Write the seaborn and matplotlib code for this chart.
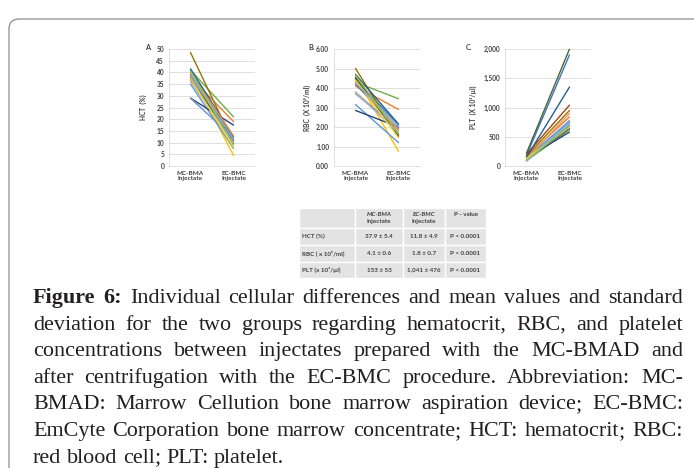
import matplotlib
matplotlib.use("Agg")
import numpy as np
import pandas as pd
import seaborn as sns
import matplotlib.pyplot as plt
from matplotlib.patches import FancyBboxPatch, Rectangle
from matplotlib.transforms import IdentityTransform
from matplotlib.ticker import MultipleLocator, FuncFormatter

W, H = 694, 468

GROUPS = ["MC-BMA\nInjectate", "EC-BMC\nInjectate"]

# excel-like series colours, one per patient
COLORS = ["#4472C4", "#ED7D31", "#A5A5A5", "#FFC000", "#5B9BD5", "#70AD47",
          "#264478", "#9E480E", "#636363", "#997300", "#255E91", "#43682B",
          "#698ED0", "#F1975A", "#B7B7B7", "#FFCD33", "#7CAFDD", "#8CC168"]

HCT_MC = [40, 38, 39, 40, 35, 41, 29, 38, 37, 48.5, 41.5, 39, 29, 39.5, 36, 37.5, 38.5, 40.5]
HCT_EC = [12, 19, 11, 4.5, 7.5, 21, 17.5, 10, 11, 10, 12.5, 9.5, 12, 13, 10, 8, 11.5, 9]

RBC_MC = [4.45, 4.1, 3.8, 4.6, 3.15, 4.3, 2.85, 4.5, 4.2, 5.0, 4.7, 4.55, 3.7, 4.35, 3.75, 4.4, 4.25, 4.65]
RBC_EC = [2.1, 2.9, 1.8, 0.75, 1.2, 3.45, 2.0, 1.6, 1.9, 1.5, 2.15, 1.55, 1.95, 1.85, 1.7, 1.45, 2.05, 1.65]

PLT_MC = [180, 160, 120, 130, 140, 90, 140, 200, 110, 170, 150, 220, 100, 120, 90, 130, 80, 100]
PLT_EC = [1900, 840, 780, 700, 760, 620, 580, 1040, 640, 950, 1350, 2000, 700, 900, 730, 670, 740, 680]

TABLE_HEAD = [("", ""), ("MC-BMA", "Injectate"), ("EC-BMC", "Injectate"), ("P - value", "")]
TABLE_ROWS = [
    ["HCT (%)", "37.9 ± 5.4", "11.8 ± 4.9", "P < 0.0001"],
    ["RBC ( x 10⁹/ml)", "4.1 ± 0.6", "1.8 ± 0.7", "P < 0.0001"],
    ["PLT (x 10³/µl)", "153 ± 53", "1,041 ± 476", "P < 0.0001"],
]

CAPTION = [
    "Figure 6: Individual cellular differences and mean values and standard",
    "deviation for the two groups regarding hematocrit, RBC, and platelet",
    "concentrations between injectates prepared with the MC-BMAD and",
    "after centrifugation with the EC-BMC procedure. Abbreviation: MC-",
    "BMAD: Marrow Cellution bone marrow aspiration device; EC-BMC:",
    "EmCyte Corporation bone marrow concentrate; HCT: hematocrit; RBC:",
    "red blood cell; PLT: platelet.",
]

SANS = ["Lato", "DejaVu Sans"]
SERIF = ["Liberation Serif", "DejaVu Serif"]


def panel(fig, left, mc, ec, top, step, fmt, ylabel, label_x, letter, letter_x):
    ax = fig.add_axes([left / W, 1 - 166 / H, 86 / W, 117 / H])
    n = len(mc)
    df = pd.DataFrame({
        "subject": np.tile(np.arange(n), 2),
        "group": np.repeat(GROUPS, n),
        "value": np.concatenate([mc, ec]),
    })
    df["pos"] = df["group"].map({g: i for i, g in enumerate(GROUPS)})
    sns.lineplot(data=df, x="pos", y="value", hue="subject", palette=COLORS[:n],
                 legend=False, lw=1.0, sort=False, estimator=None, ax=ax)
    ax.set_xlim(-0.5, 1.5)
    ax.set_ylim(0, top)
    ax.set_xticks(range(len(GROUPS)))
    ax.set_xticklabels(GROUPS, fontsize=4.6, fontweight="bold", family=SANS,
                       color="#404040", linespacing=1.1)
    ax.yaxis.set_major_locator(MultipleLocator(step))
    ax.yaxis.set_major_formatter(FuncFormatter(lambda v, p: fmt.format(v)))
    for t in ax.get_yticklabels():
        t.set_fontsize(4.8)
        t.set_fontweight("bold")
        t.set_family(SANS)
        t.set_color("#404040")
    ax.tick_params(length=0, pad=3.5)
    ax.grid(axis="y", color="#D9D9D9", lw=0.6)
    ax.grid(axis="x", visible=False)
    for s in ["top", "right"]:
        ax.spines[s].set_visible(False)
    ax.spines["left"].set_color("#D9D9D9")
    ax.spines["bottom"].set_color("#D9D9D9")
    ax.spines["left"].set_linewidth(0.6)
    ax.spines["bottom"].set_linewidth(0.6)
    ax.set_xlabel("")
    ax.set_ylabel(ylabel, fontsize=4.8, fontweight="bold", family=SANS, color="#404040")
    ax.yaxis.set_label_coords((label_x - left) / 86, 0.5)
    fig.text(letter_x / W, 1 - 47 / H, letter, fontsize=5.2, fontweight="bold",
             family=SANS, color="#404040", va="center")
    return ax


def draw_table(fig):
    ax = fig.add_axes([299 / W, 1 - 278 / H, 187 / W, 70 / H])
    ax.set_xlim(0, 187)
    ax.set_ylim(70, 0)
    ax.axis("off")
    cols = [0, 56, 104, 146, 187]
    rows = [0, 20, 37, 54, 70]
    for i in range(4):
        for j in range(4):
            ax.add_patch(Rectangle((cols[j], rows[i]), cols[j + 1] - cols[j], rows[i + 1] - rows[i],
                                   facecolor="#E3E3E3", edgecolor="white", lw=1.0))
    kw = dict(fontsize=4.5, fontweight="bold", family=SANS, color="#404040")
    for j, (a, b) in enumerate(TABLE_HEAD):
        cx = (cols[j] + cols[j + 1]) / 2
        if b:
            ax.text(cx, 6.5, a, ha="center", va="center", style="italic", **kw)
            ax.text(cx, 13.5, b, ha="center", va="center", **kw)
        elif a:
            ax.text(cx, 6.5, a, ha="center", va="center", **kw)
    for i, row in enumerate(TABLE_ROWS):
        cy = (rows[i + 1] + rows[i + 2]) / 2
        for j, txt in enumerate(row):
            if j == 0:
                ax.text(cols[0] + 3, cy, txt, ha="left", va="center", **kw)
            else:
                ax.text((cols[j] + cols[j + 1]) / 2, cy, txt, ha="center", va="center", **kw)


def split_word(w):
    # keep semicolons as their own token so the word itself sits on the baseline
    if w.endswith(";"):
        return [w[:-1], ";"]
    return [w]


def draw_caption(fig):
    renderer = fig.canvas.get_renderer()
    x0, x1 = 33, 683
    base = 10

    lines = []
    for k, line in enumerate(CAPTION):
        ws = line.split(" ")
        lines.append([(split_word(w), "bold" if (k == 0 and i < 2) else "normal")
                      for i, w in enumerate(ws)])

    def make(parts, fs, wt, y):
        return [fig.text(0, y, p, fontsize=fs, family=SERIF, weight=wt,
                         va="baseline", color="#231F20") for p in parts]

    def ext(a):
        return a.get_window_extent(renderer).width

    sp_ratio = 0.25
    nat = []
    for ws in lines[:-1]:
        total = 0
        for parts, wt in ws:
            arts = make(parts, base, wt, 0)
            total += sum(ext(a) for a in arts)
            for a in arts:
                a.remove()
        nat.append(total + (len(ws) - 1) * sp_ratio * base * 100 / 72)
    fs = base * 638 / max(nat)

    for k, ws in enumerate(lines):
        y = 1 - (303 + k * 26.6) / H
        words = []
        for parts, wt in ws:
            arts = make(parts, fs, wt, y)
            words.append((arts, [ext(a) for a in arts]))
        total = sum(sum(wd) for _, wd in words)
        if k < len(lines) - 1:
            gap = (x1 - x0 - total) / (len(words) - 1)
        else:
            gap = sp_ratio * fs * 100 / 72
        x = x0
        for arts, wd in words:
            for a, w in zip(arts, wd):
                a.set_x(x / W)
                x += w
            x += gap
    return fs


def main():
    sns.set_theme(style="white")
    fig = plt.figure(figsize=(W / 100, H / 100), dpi=100)

    box = FancyBboxPatch((9, -60), 900, H - 19 + 60, boxstyle="round,pad=0,rounding_size=10",
                         transform=IdentityTransform(), facecolor="none",
                         edgecolor="#8C8C8C", lw=0.9)
    fig.add_artist(box)

    panel(fig, 169, HCT_MC, HCT_EC, 50, 5, "{:.0f}", "HCT  (%)", 147, "A.", 145)
    panel(fig, 334, RBC_MC, RBC_EC, 6, 1, "{:.2f}", "RBC  (X 10⁹/ml)", 311, "B.", 308)
    panel(fig, 505, PLT_MC, PLT_EC, 2000, 500, "{:,.0f}", "PLT  (X 10³/µl)", 477, "C.", 466)
    draw_table(fig)
    fs = draw_caption(fig)

    # cut-off line of body text above the box (only its lowest part shows)
    fig.text(95 / W, 1 + 4.5 / H, "(Table 4)", fontsize=fs, family=SERIF, va="baseline", color="#231F20")
    fig.text(212 / W, 1 + 4.5 / H, "(Figure 6).", fontsize=fs, family=SERIF, va="baseline", color="#231F20")

    fig.savefig("out.png", dpi=100)
    plt.close(fig)


if __name__ == "__main__":
    main()
